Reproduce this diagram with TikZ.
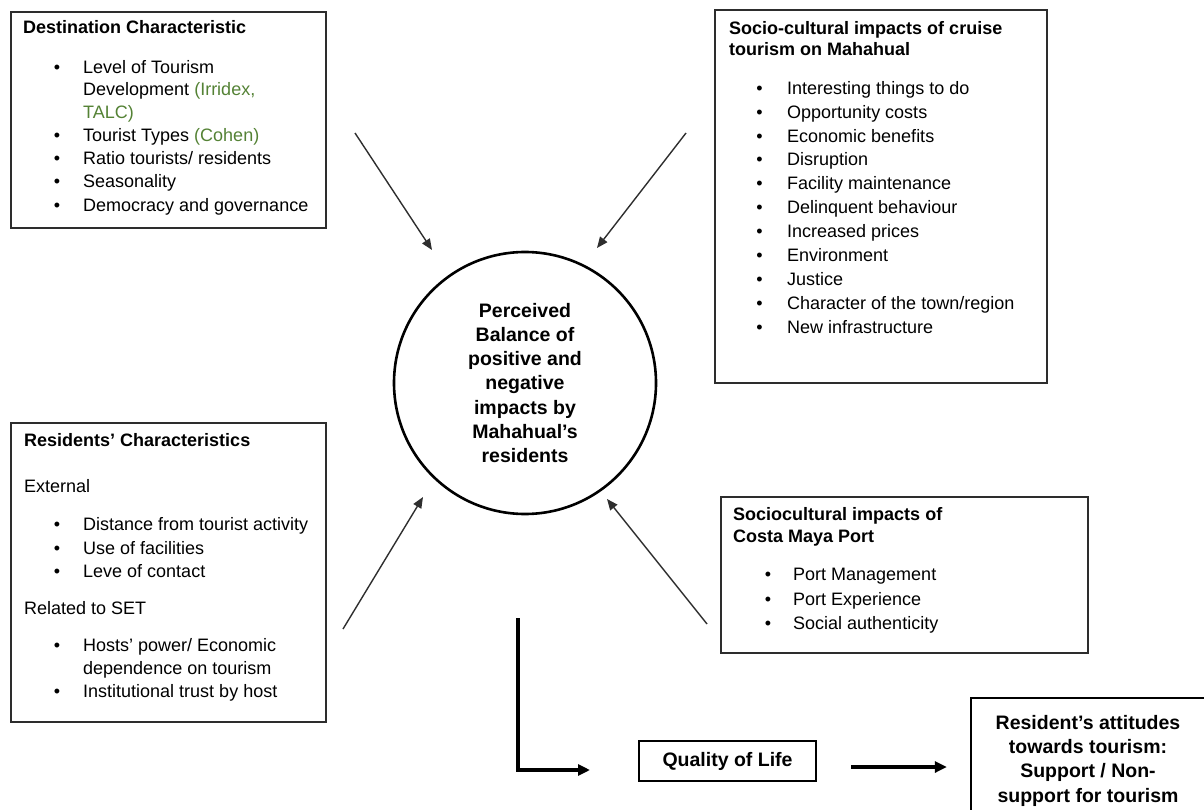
\documentclass[tikz,border=0pt]{standalone}
\usepackage{fontspec}
\setmainfont{Liberation Sans}
\usetikzlibrary{arrows.meta}
\definecolor{refgreen}{RGB}{84,130,53}
\definecolor{boxline}{RGB}{45,45,45}
\newcommand{\gr}[1]{\textcolor{refgreen}{#1}}

\begin{document}
\begin{tikzpicture}[x=1pt,y=-1pt,
  frame/.style={draw=boxline, line width=1.3pt, rectangle, inner sep=0pt},
  boldframe/.style={draw=black, line width=2.6pt, rectangle, inner sep=0pt},
  txt/.style={anchor=base west, inner sep=0pt, font=\fontsize{18}{22}\selectfont},
  head/.style={anchor=base west, inner sep=0pt, font=\fontsize{18}{22}\selectfont\bfseries},
  dot/.style={anchor=base, inner sep=0pt, font=\fontsize{18}{22}\selectfont},
  bigbold/.style={font=\fontsize{19.5}{24.3}\selectfont\bfseries},
  thinarrow/.style={draw=black!82, line width=1.4pt, -{Triangle[length=11pt,width=9pt]}},
  thickarrow/.style={draw=black, line width=3.5pt, line join=miter, -{Triangle[length=12pt,width=11pt]}},
]
\clip (0,0) rectangle (1204,810);

% ---- Destination characteristic ----
\node[frame, minimum width=315pt, minimum height=216pt] (dest) at (168.5,120) {};
\node[head] (dest-t) at (23,33.5) {Destination Characteristic};
\foreach \y/\t [count=\i] in {
    73.5/{Level of Tourism},
    95.5/{Development \gr{(Irridex,}},
    118.5/{\gr{TALC)}},
    141.5/{Tourist Types \gr{(Cohen)}},
    164.5/{Ratio tourists/ residents},
    188.0/{Seasonality},
    211.5/{Democracy and governance}}
  \node[txt] (dest-\i) at (83,\y) {\t};
\foreach \y [count=\i] in {73.5,141.5,164.5,188.0,211.5}
  \node[dot] (dest-b\i) at (57,\y) {\textbullet};

% ---- Socio-cultural impacts of cruise tourism ----
\node[frame, minimum width=332pt, minimum height=373pt] (cruise) at (881,196.5) {};
\node[head] (cruise-t1) at (729,34.3) {Socio-cultural impacts of cruise};
\node[head] (cruise-t2) at (729,56) {tourism on Mahahual};
\foreach \t [count=\i] in {
    Interesting things to do, Opportunity costs, Economic benefits,
    Disruption, Facility maintenance, Delinquent behaviour,
    Increased prices, Environment, Justice,
    {Character of the town/region}, New infrastructure} {
  \pgfmathsetmacro{\yy}{94.3+23.9*(\i-1)}
  \node[dot] (cruise-b\i) at (759.5,\yy) {\textbullet};
  \node[txt] (cruise-\i) at (787,\yy) {\t};
}

% ---- Residents' characteristics ----
\node[frame, minimum width=315pt, minimum height=299pt] (res) at (168.5,572.5) {};
\node[head] (res-t) at (24,446.7) {Residents’ Characteristics};
\node[txt] (res-ext) at (24,492.7) {External};
\node[txt] (res-set) at (24,614) {Related to SET};
\foreach \y/\t [count=\i] in {
    530.7/{Distance from tourist activity},
    554.0/{Use of facilities},
    577.3/{Leve of contact},
    651.7/{Hosts’ power/ Economic},
    674.5/{dependence on tourism},
    697.3/{Institutional trust by host}}
  \node[txt] (res-\i) at (83,\y) {\t};
\foreach \y [count=\i] in {530.7,554.0,577.3,651.7,697.3}
  \node[dot] (res-b\i) at (57,\y) {\textbullet};

% ---- Sociocultural impacts of Costa Maya Port ----
\node[frame, minimum width=367pt, minimum height=156pt] (port) at (904.5,575) {};
\node[head] (port-t1) at (733,520.7) {Sociocultural impacts of};
\node[head] (port-t2) at (733,542.7) {Costa Maya Port};
\foreach \y/\t [count=\i] in {
    580.7/{Port Management},
    605.0/{Port Experience},
    629.3/{Social authenticity}} {
  \node[dot] (port-b\i) at (768,\y) {\textbullet};
  \node[txt] (port-\i) at (793,\y) {\t};
}

% ---- Central construct ----
\node[draw=black, circle, line width=2.6pt, minimum size=262pt, inner sep=0pt,
      align=center, bigbold] (bal) at (525,383)
  {Perceived\\Balance of\\positive and\\negative\\impacts by\\Mahahual’s\\residents};

% ---- Outcomes ----
\node[boldframe, minimum width=177pt, minimum height=40pt, bigbold] (qol) at (727.5,761) {Quality of Life};
\node[draw=black, line width=2.4pt, rectangle, inner sep=0pt,
      minimum width=249pt, minimum height=142pt] (att) at (1095.5,769) {};
\node[align=center, anchor=north, inner sep=0pt, bigbold] (att-txt) at (1088,715)
  {Resident’s attitudes\\towards tourism:\\Support / Non-\\support for tourism};

% ---- Influence arrows ----
\coordinate (a1s) at (355,133);  \coordinate (a1e) at (432,250);
\coordinate (a2s) at (686,133);  \coordinate (a2e) at (597,248);
\coordinate (a3s) at (343,629);  \coordinate (a3e) at (423,497);
\coordinate (a4s) at (707,624);  \coordinate (a4e) at (607,499);
\draw[thinarrow] (a1s) -- (a1e);
\draw[thinarrow] (a2s) -- (a2e);
\draw[thinarrow] (a3s) -- (a3e);
\draw[thinarrow] (a4s) -- (a4e);

\coordinate (b0) at (518,618);
\coordinate (b1) at (590,770);
\draw[thickarrow] (b0) |- (b1);
\draw[thickarrow] ([xshift=34pt,yshift=-6pt]qol.east) -- ([xshift=-23pt,yshift=2pt]att.west);
\end{tikzpicture}
\end{document}
